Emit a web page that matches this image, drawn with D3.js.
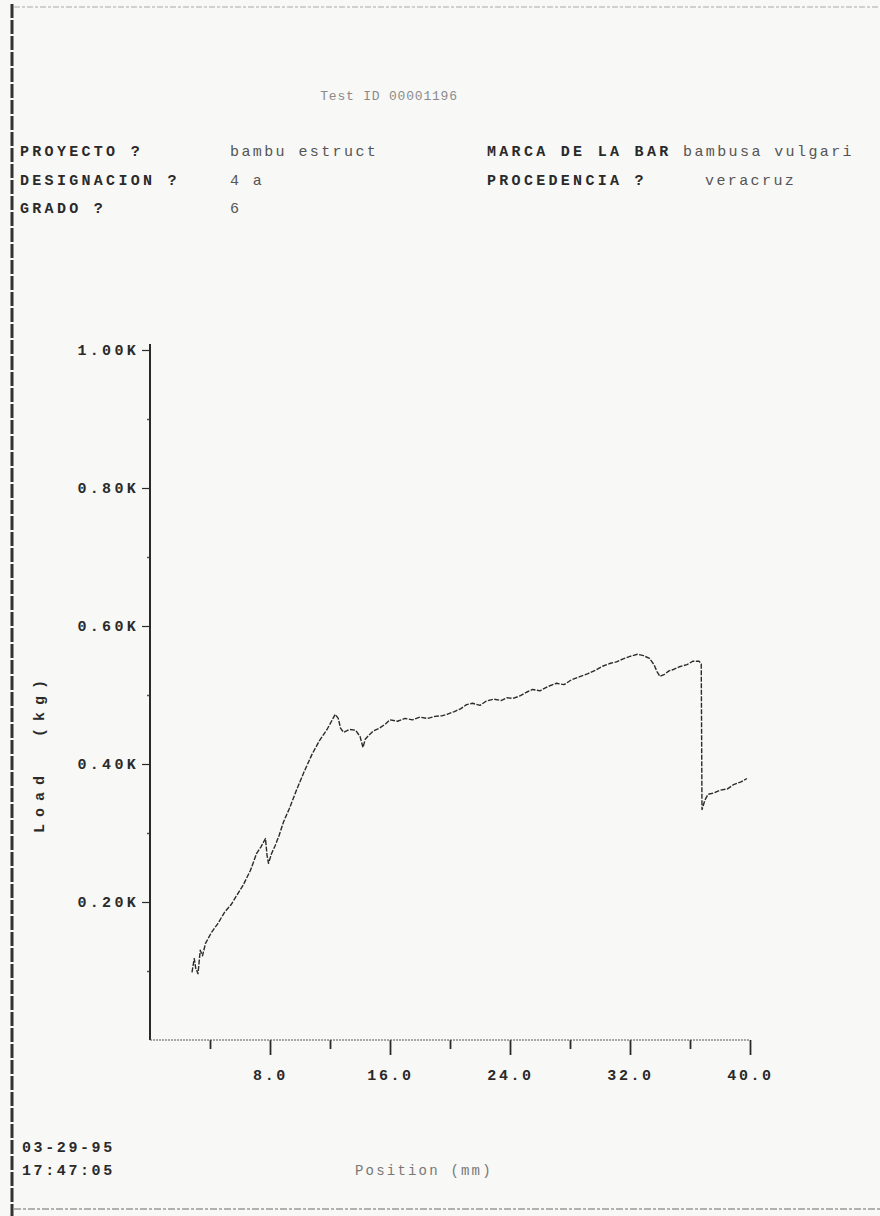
<!DOCTYPE html>
<html>
<head>
<meta charset="utf-8">
<script src="https://cdn.jsdelivr.net/npm/d3@7"></script>
<style>
  html, body { margin: 0; padding: 0; background: #f8f8f6; }
  svg { display: block; }
  text { font-family: "Liberation Mono", "DejaVu Sans Mono", monospace; }
</style>
</head>
<body>
<svg id="chart"></svg>
<script>
// position (mm) and load (kg)
var posMm = [2.8, 2.95, 3.05, 3.2, 3.35, 3.5, 3.7, 4.1, 4.5, 5.0, 5.4, 5.8, 6.2, 6.7, 7.1, 7.4, 7.7, 7.8, 7.9, 8.1,
  8.35, 8.6, 8.9, 9.3, 9.8, 10.3, 10.8, 11.3, 11.8, 12.1, 12.35, 12.55, 12.7, 12.9, 13.3, 13.7, 14.0, 14.2, 14.35, 14.6,
  14.9, 15.3, 15.7, 16.0, 16.5, 17.0, 17.5, 18.0, 18.5, 19.0, 19.5, 19.8, 20.3, 20.7, 21.1, 21.5, 22.0, 22.4, 22.9, 23.4,
  23.8, 24.2, 24.7, 25.1, 25.5, 26.0, 26.5, 27.1, 27.6, 28.1, 28.7, 29.2, 29.7, 30.2, 30.7, 31.1, 31.5, 32.0, 32.5, 32.9,
  33.3, 33.6, 33.8, 34.0, 34.3, 34.6, 34.9, 35.3, 35.8, 36.2, 36.6, 36.75, 36.8, 37.0, 37.2, 37.6, 38.0, 38.5, 38.9, 39.4, 39.8]
var loadKg = [98, 118, 104, 96, 130, 122, 140, 156, 168, 186, 196, 210, 224, 246, 270, 280, 292, 268, 256, 270,
  282, 296, 316, 336, 364, 390, 414, 434, 450, 462, 472, 466, 452, 446, 450, 449, 440, 424, 436, 442,
  448, 452, 458, 464, 462, 466, 464, 468, 466, 469, 470, 472, 476, 480, 486, 488, 485, 491, 494, 492,
  496, 495, 499, 504, 508, 506, 512, 517, 515, 522, 527, 531, 536, 542, 546, 548, 552, 556, 559, 557,
  553, 544, 534, 527, 530, 535, 537, 541, 544, 549, 549, 545, 334, 348, 356, 358, 362, 364, 370, 374, 379]

var xMajor = [8, 16, 24, 32, 40]
var xMinor = [4, 12, 20, 28, 36]
var yMajor = [200, 400, 600, 800, 1000]
var yMinor = [100, 300, 500, 700, 900]

var title = "Test ID 00001196"
var headerRows = [
  ["PROYECTO ?", "bambu estruct", "MARCA DE LA BAR", "bambusa vulgari"],
  ["DESIGNACION ?", "4 a", "PROCEDENCIA ?", "veracruz"],
  ["GRADO ?", "6", "", ""]
]
var stamp = ["03-29-95", "17:47:05"]
var xTitle = "Position (mm)"
var yTitle = "Load  (kg)"

var width = 880, height = 1216
var svg = d3.select("#chart").attr("width", width).attr("height", height)

var x = d3.scaleLinear().domain([0, 40]).range([150, 750])
var y = d3.scaleLinear().domain([0, 1000]).range([1040, 350])

var ink = "#2a2a2a"

// page frame of the scan
svg.append("line").attr("x1", 12).attr("x2", 12).attr("y1", 4).attr("y2", height)
  .attr("stroke", "#333").attr("stroke-width", 3).attr("stroke-dasharray", "14 2")
svg.append("line").attr("x1", 14).attr("x2", width).attr("y1", 7).attr("y2", 7)
  .attr("stroke", "#aaa").attr("stroke-width", 1.2).attr("stroke-dasharray", "6 2 3 2")
svg.append("line").attr("x1", 14).attr("x2", width).attr("y1", 1209).attr("y2", 1209)
  .attr("stroke", "#999").attr("stroke-width", 1.5).attr("stroke-dasharray", "7 2 3 2")

// header
svg.append("text").attr("x", 389).attr("y", 100).attr("text-anchor", "middle")
  .attr("font-size", 13).attr("letter-spacing", 0.8).attr("fill", "#8a8a8a").text(title)
var colX = [20, 230, 487, 683]
var rowY = [156, 185, 213]
headerRows.forEach(function(row, i) {
  row.forEach(function(t, j) {
    var xx = colX[j]
    if (i == 1 && j == 3) xx = 705
    svg.append("text").attr("x", xx).attr("y", rowY[i])
      .attr("font-size", 15).attr("letter-spacing", j % 2 == 1 ? 2.4 : 3.3)
      .attr("font-weight", j % 2 == 1 ? "normal" : "bold")
      .attr("fill", j % 2 == 1 ? "#555" : ink).text(t)
  })
})

// y axis
var yAxis = svg.append("g").attr("transform", "translate(150,0)")
  .call(d3.axisLeft(y).tickValues(yMajor).tickSize(8).tickPadding(3)
    .tickFormat(function(d) { return d3.format(".2f")(d / 1000) + "K" }))
yAxis.select(".domain").remove()
yAxis.selectAll("line").attr("stroke", ink).attr("stroke-width", 1.2)
yAxis.selectAll("text").attr("font-size", 15).attr("letter-spacing", 3.3).attr("font-weight", "bold")
  .attr("fill", ink).attr("font-family", "Liberation Mono")
var yAxisMinor = svg.append("g").attr("transform", "translate(150,0)")
  .call(d3.axisLeft(y).tickValues(yMinor).tickSize(3).tickFormat(""))
yAxisMinor.select(".domain").remove()
yAxisMinor.selectAll("line").attr("stroke", "#555").attr("stroke-width", 1.5)
svg.append("line").attr("x1", 150).attr("x2", 150).attr("y1", y(1000) - 6).attr("y2", y(0))
  .attr("stroke", ink).attr("stroke-width", 2)

// x axis
var xAxis = svg.append("g").attr("transform", "translate(0," + y(0) + ")")
  .call(d3.axisBottom(x).tickValues(xMajor).tickSize(15).tickPadding(14)
    .tickFormat(d3.format(".1f")))
xAxis.select(".domain").remove()
xAxis.selectAll("line").attr("stroke", ink).attr("stroke-width", 1.8)
xAxis.selectAll("text").attr("font-size", 15).attr("letter-spacing", 2.6).attr("font-weight", "bold")
  .attr("fill", ink).attr("font-family", "Liberation Mono")
var xAxisMinor = svg.append("g").attr("transform", "translate(0," + y(0) + ")")
  .call(d3.axisBottom(x).tickValues(xMinor).tickSize(9).tickFormat(""))
xAxisMinor.select(".domain").remove()
xAxisMinor.selectAll("line").attr("stroke", ink).attr("stroke-width", 1.8)
svg.append("line").attr("x1", x(0)).attr("x2", x(40)).attr("y1", y(0)).attr("y2", y(0))
  .attr("stroke", "#555").attr("stroke-width", 1).attr("stroke-dasharray", "2 1")

// axis titles
svg.append("text").attr("transform", "translate(44,753) rotate(-90)")
  .attr("text-anchor", "middle").attr("font-size", 15).attr("letter-spacing", 7)
  .attr("font-weight", "bold").attr("fill", ink)
  .attr("xml:space", "preserve").style("white-space", "pre").text(yTitle)
svg.append("text").attr("x", 355).attr("y", 1175)
  .attr("font-size", 14).attr("letter-spacing", 2.2).attr("fill", "#777").text(xTitle)

// date / time stamp
stamp.forEach(function(t, i) {
  svg.append("text").attr("x", 22).attr("y", 1152 + i * 23)
    .attr("font-size", 15).attr("letter-spacing", 2.6).attr("font-weight", "bold")
    .attr("fill", ink).text(t)
})

// load curve
var line = d3.line()
  .x(function(d, i) { return x(posMm[i]) })
  .y(function(d) { return y(d) })
svg.append("path")
  .attr("d", line(loadKg))
  .attr("fill", "none")
  .attr("stroke", "#2b2b2b")
  .attr("stroke-width", 1.4)
  .attr("stroke-linejoin", "round")
  .attr("stroke-dasharray", "5 1.5")
</script>
</body>
</html>
